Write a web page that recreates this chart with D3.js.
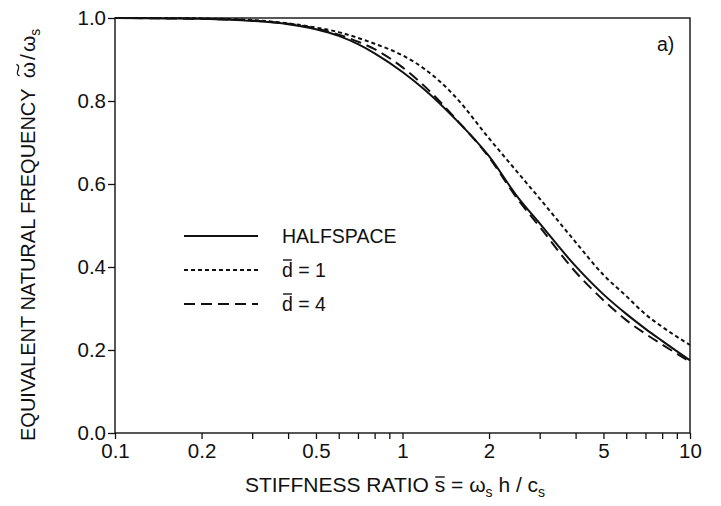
<!DOCTYPE html>
<html>
<head>
<meta charset="utf-8">
<script src="https://cdn.jsdelivr.net/npm/d3@7"></script>
<style>
  html, body { margin: 0; padding: 0; background: #fff; }
  svg { display: block; }
  text { font-family: "Liberation Sans", Arial, Helvetica, sans-serif; fill: #111; }
</style>
</head>
<body>
<svg id="chart" width="721" height="506"></svg>
<script>
// Stiffness ratio s̄ (log axis) and equivalent natural frequency ω̃/ωs
const stiffness = [0.1, 0.15, 0.2, 0.3, 0.4, 0.5, 0.6, 0.7, 0.8, 1.0, 1.2, 1.5, 2.0, 2.5, 3.0, 4.0, 5.0, 6.0, 7.0, 8.0, 10];
const halfspace = [1.000, 0.999, 0.998, 0.993, 0.985, 0.973, 0.957, 0.937, 0.915, 0.870, 0.826, 0.762, 0.667, 0.571, 0.505, 0.402, 0.334, 0.287, 0.251, 0.222, 0.175];
const depth1    = [1.000, 1.000, 0.999, 0.995, 0.987, 0.977, 0.966, 0.952, 0.938, 0.910, 0.876, 0.816, 0.710, 0.630, 0.565, 0.460, 0.381, 0.330, 0.286, 0.256, 0.212];
const depth4    = [1.000, 0.999, 0.998, 0.994, 0.986, 0.975, 0.960, 0.943, 0.925, 0.881, 0.834, 0.764, 0.664, 0.566, 0.497, 0.388, 0.320, 0.272, 0.239, 0.213, 0.172];

const xMajorTicks = [0.1, 0.2, 0.5, 1, 2, 5, 10];
const xMajorLabels = ["0.1", "0.2", "0.5", "1", "2", "5", "10"];
const xMinorTicks = [0.3, 0.4, 0.6, 0.7, 0.8, 0.9, 3, 4, 6, 7, 8, 9];
const yTicks = [0.0, 0.2, 0.4, 0.6, 0.8, 1.0];

const seriesNames = ["HALFSPACE", "d = 1", "d = 4"];

const svg = d3.select("#chart");
const plotLeft = 115, plotRight = 690, plotTop = 18, plotBottom = 433;

const x = d3.scaleLog().domain([0.1, 10]).range([plotLeft, plotRight]);
const y = d3.scaleLinear().domain([0, 1]).range([plotBottom, plotTop]);

const tickFont = 20.5;
const labelFont = 19.5;

// frame
svg.append("rect")
  .attr("x", plotLeft).attr("y", plotTop)
  .attr("width", plotRight - plotLeft).attr("height", plotBottom - plotTop)
  .attr("fill", "none").attr("stroke", "#111").attr("stroke-width", 1.4);

// bottom axis: all ticks, labels on majors only
const labelFor = new Map(xMajorTicks.map((v, i) => [v, xMajorLabels[i]]));
const xAxis = d3.axisBottom(x)
  .tickValues(xMajorTicks.concat(xMinorTicks))
  .tickFormat(d => labelFor.has(d) ? labelFor.get(d) : "")
  .tickSize(6).tickPadding(4);
const gx = svg.append("g").attr("transform", `translate(0,${plotBottom})`).call(xAxis);
gx.select(".domain").remove();
gx.selectAll(".tick line").attr("stroke", "#111").attr("stroke-width", 1.3);
gx.selectAll(".tick text").attr("font-size", tickFont).attr("fill", "#111")
  .attr("font-family", "Liberation Sans, Arial, sans-serif");

// left axis
const yAxis = d3.axisLeft(y).tickValues(yTicks).tickFormat(d3.format(".1f"))
  .tickSize(7).tickPadding(2);
const gy = svg.append("g").attr("transform", `translate(${plotLeft},0)`).call(yAxis);
gy.select(".domain").remove();
gy.selectAll(".tick line").attr("stroke", "#111").attr("stroke-width", 1.3);
gy.selectAll(".tick text").attr("font-size", tickFont).attr("fill", "#111")
  .attr("font-family", "Liberation Sans, Arial, sans-serif");

// curves
const styles = [
  { data: halfspace, dash: null },
  { data: depth1, dash: "4,3" },
  { data: depth4, dash: "11,6" }
];
const line = d3.line()
  .x(d => x(d[0])).y(d => y(d[1]))
  .curve(d3.curveMonotoneX);

const plot = svg.append("g");
styles.forEach(s => {
  plot.append("path")
    .datum(stiffness.map((v, i) => [v, s.data[i]]))
    .attr("d", line)
    .attr("fill", "none")
    .attr("stroke", "#111")
    .attr("stroke-width", 2)
    .attr("stroke-dasharray", s.dash);
});

// legend
const legendY = [236, 270, 304];
const leg = svg.append("g");
styles.forEach((s, i) => {
  leg.append("line")
    .attr("x1", 184).attr("x2", 258)
    .attr("y1", legendY[i]).attr("y2", legendY[i])
    .attr("stroke", "#111").attr("stroke-width", 2)
    .attr("stroke-dasharray", s.dash);
  const t = leg.append("text")
    .attr("x", 282).attr("y", legendY[i] + 7)
    .attr("font-size", labelFont)
    .text(seriesNames[i]);
  if (i > 0) {
    // overbar on d
    const b = t.node().getExtentOfChar(0);
    leg.append("line")
      .attr("x1", b.x + 1).attr("x2", b.x + b.width - 1)
      .attr("y1", b.y + 1).attr("y2", b.y + 1)
      .attr("stroke", "#111").attr("stroke-width", 1.4);
  }
});

// panel tag
svg.append("text").attr("x", 657).attr("y", 51).attr("font-size", labelFont).text("a)");

// x axis title
const xt = svg.append("text")
  .attr("x", 395).attr("y", 492)
  .attr("text-anchor", "middle")
  .attr("font-size", 21);
xt.append("tspan").text("STIFFNESS RATIO s = ω");
xt.append("tspan").attr("font-size", 14).attr("dy", 5).text("s");
xt.append("tspan").attr("dy", -5).text(" h / c");
xt.append("tspan").attr("font-size", 14).attr("dy", 5).text("s");
{
  const sIdx = "STIFFNESS RATIO ".length;
  const b = xt.node().getExtentOfChar(sIdx);
  svg.append("line")
    .attr("x1", b.x + 0.5).attr("x2", b.x + b.width - 0.5)
    .attr("y1", b.y + 4).attr("y2", b.y + 4)
    .attr("stroke", "#111").attr("stroke-width", 1.4);
}

// y axis title (rotated), with a tilde drawn over the first omega
const yg = svg.append("g").attr("transform", "translate(35,441) rotate(-90)");
const yt = yg.append("text").attr("x", 0).attr("y", 0).attr("font-size", 20);
yt.append("tspan").text("EQUIVALENT NATURAL FREQUENCY");
yt.append("tspan").attr("dx", 10).attr("font-size", 21).text("ω");
yt.append("tspan").attr("dx", 2).attr("font-size", 21).text("/");
yt.append("tspan").attr("dx", 2).attr("font-size", 21).text("ω");
yt.append("tspan").attr("font-size", 14).attr("dy", 5).text("s");
{
  const wIdx = "EQUIVALENT NATURAL FREQUENCY".length;
  const b = yt.node().getExtentOfChar(wIdx);
  const x0 = b.x + 2.5, x1 = b.x + b.width - 2.5, yy = b.y + 2;
  const w = x1 - x0;
  yg.append("path")
    .attr("d", `M${x0},${yy + 1.5} C${x0 + w * 0.25},${yy - 5} ${x0 + w * 0.75},${yy + 5} ${x1},${yy - 1.5}`)
    .attr("fill", "none").attr("stroke", "#111").attr("stroke-width", 1.3);
}
</script>
</body>
</html>
